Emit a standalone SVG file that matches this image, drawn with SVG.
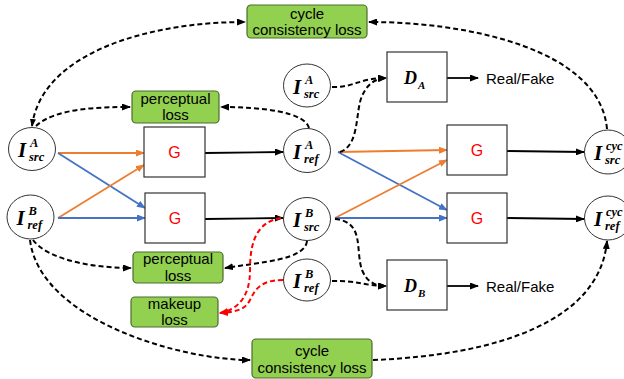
<svg xmlns="http://www.w3.org/2000/svg" width="624" height="379" viewBox="0 0 624 379">
  <style>
    .node { fill: #ffffff; stroke: #333333; stroke-width: 1; }
    .box { fill: #ffffff; stroke: #333333; stroke-width: 1.2; }
    .loss { fill: #92d050; stroke: #4e6b2e; stroke-width: 1.2; }
    .lbl { font-family: "Liberation Sans", Arial, sans-serif; font-size: 15px; fill: #000; text-anchor: middle; }
    .g { font-family: "Liberation Sans", Arial, sans-serif; font-size: 16px; fill: #ff0000; text-anchor: middle; }
    .rf { font-family: "Liberation Sans", Arial, sans-serif; font-size: 15px; fill: #000; }
    .m { font-family: "Liberation Serif", "Times New Roman", serif; font-style: italic; font-weight: bold; fill: #000; }
    .mI { font-size: 21px; }
    .ms { font-size: 12.5px; }
    .solid { fill: none; stroke: #000; stroke-width: 1.8; }
    .orange { fill: none; stroke: #ed7d31; stroke-width: 1.8; }
    .blue { fill: none; stroke: #4472c4; stroke-width: 1.8; }
    .dash { fill: none; stroke: #000; stroke-width: 2; stroke-dasharray: 5 3; }
    .rdash { fill: none; stroke: #ff0000; stroke-width: 2; stroke-dasharray: 5 3; }
  </style>
  <defs>
    <marker id="ak" markerUnits="userSpaceOnUse" markerWidth="9" markerHeight="7" refX="8" refY="3.5" orient="auto">
      <path d="M0,0 L9,3.5 L0,7 z" fill="#000"/>
    </marker>
    <marker id="ao" markerUnits="userSpaceOnUse" markerWidth="9" markerHeight="7" refX="8" refY="3.5" orient="auto">
      <path d="M0,0 L9,3.5 L0,7 z" fill="#ed7d31"/>
    </marker>
    <marker id="ab" markerUnits="userSpaceOnUse" markerWidth="9" markerHeight="7" refX="8" refY="3.5" orient="auto">
      <path d="M0,0 L9,3.5 L0,7 z" fill="#4472c4"/>
    </marker>
    <marker id="ar" markerUnits="userSpaceOnUse" markerWidth="9" markerHeight="7" refX="8" refY="3.5" orient="auto">
      <path d="M0,0 L9,3.5 L0,7 z" fill="#ff0000"/>
    </marker>
    <marker id="ks" markerUnits="userSpaceOnUse" markerWidth="8" markerHeight="6" refX="1" refY="3" orient="auto">
      <path d="M8,0 L0,3 L8,6 z" fill="#000"/>
    </marker>
  </defs>

  <!-- connectors -->
  <g id="connectors">
    <!-- generator inputs -->
    <line class="orange" x1="58" y1="153" x2="144" y2="153" marker-end="url(#ao)"/>
    <line class="blue" x1="58" y1="153" x2="145" y2="208" marker-end="url(#ab)"/>
    <line class="orange" x1="58" y1="218" x2="144" y2="165" marker-end="url(#ao)"/>
    <line class="blue" x1="58" y1="218" x2="145" y2="218" marker-end="url(#ab)"/>
    <line class="orange" x1="338" y1="152" x2="447" y2="150" marker-end="url(#ao)"/>
    <line class="blue" x1="338" y1="152" x2="447" y2="210" marker-end="url(#ab)"/>
    <line class="orange" x1="335" y1="218" x2="447" y2="160" marker-end="url(#ao)"/>
    <line class="blue" x1="335" y1="218" x2="447" y2="218" marker-end="url(#ab)"/>
    <!-- generator outputs -->
    <line class="solid" x1="205" y1="153" x2="283" y2="152" marker-end="url(#ak)"/>
    <line class="solid" x1="205" y1="219" x2="283" y2="218" marker-end="url(#ak)"/>
    <line class="solid" x1="507" y1="151" x2="584" y2="152" marker-end="url(#ak)"/>
    <line class="solid" x1="507" y1="218" x2="584" y2="219" marker-end="url(#ak)"/>
    <!-- discriminator outputs -->
    <line class="solid" x1="447" y1="78" x2="478" y2="78" marker-end="url(#ak)"/>
    <line class="solid" x1="447" y1="286" x2="478" y2="286" marker-end="url(#ak)"/>
    <!-- loss links -->
    <path class="dash" d="M32,126 C42,52 150,22 245,22" marker-start="url(#ks)" marker-end="url(#ak)"/>
    <path class="dash" d="M36,126 C55,108 100,107 130,107" marker-end="url(#ak)"/>
    <path class="dash" d="M309,128 C305,112 262,107 221,107" marker-end="url(#ak)"/>
    <path class="dash" d="M607,129 C600,50 470,22 369,22" marker-end="url(#ak)"/>
    <path class="dash" d="M332,87 C352,88 360,78 386,78" marker-end="url(#ak)"/>
    <path class="dash" d="M340,152 C360,145 355,112 362,96 C368,83 375,79 386,78" marker-end="url(#ak)"/>
    <path class="dash" d="M335,219 C365,222 355,250 362,270 C367,282 375,286 386,286" marker-end="url(#ak)"/>
    <path class="dash" d="M332,281 C355,280 365,286 386,286" marker-end="url(#ak)"/>
    <path class="dash" d="M307,241 C305,260 262,262 225,268" marker-end="url(#ak)"/>
    <path class="dash" d="M33,240 C50,262 100,268 131,268" marker-end="url(#ak)"/>
    <path class="dash" d="M30,240 C40,320 180,360 250,360" marker-end="url(#ak)"/>
    <path class="dash" d="M373,360 C500,355 600,320 607,241" marker-end="url(#ak)"/>
    <path class="rdash" d="M281,218 C255,222 250,245 250,270 C250,300 235,310 220,313" marker-end="url(#ar)"/>
    <path class="rdash" d="M283,280 C260,280 255,290 250,300 C245,310 235,312 220,313" marker-end="url(#ar)"/>
  </g>

  <!-- loss boxes -->
  <g id="cycle-loss-top">
    <rect class="loss" x="247" y="5" width="120" height="33" rx="4"/>
    <text class="lbl" x="307" y="19">cycle</text>
    <text class="lbl" x="307" y="35">consistency loss</text>
  </g>
  <g id="perceptual-loss-top">
    <rect class="loss" x="132" y="91" width="87" height="32" rx="4"/>
    <text class="lbl" x="175.5" y="104">perceptual</text>
    <text class="lbl" x="175.5" y="120">loss</text>
  </g>
  <g id="perceptual-loss-bottom">
    <rect class="loss" x="133" y="252" width="90" height="31" rx="4"/>
    <text class="lbl" x="178" y="264">perceptual</text>
    <text class="lbl" x="178" y="281">loss</text>
  </g>
  <g id="makeup-loss">
    <rect class="loss" x="131" y="297" width="87" height="30" rx="4"/>
    <text class="lbl" x="174.5" y="309">makeup</text>
    <text class="lbl" x="174.5" y="325">loss</text>
  </g>
  <g id="cycle-loss-bottom">
    <rect class="loss" x="252" y="339" width="120" height="39" rx="4"/>
    <text class="lbl" x="312" y="356">cycle</text>
    <text class="lbl" x="312" y="373">consistency loss</text>
  </g>

  <!-- generators -->
  <g id="G1">
    <rect class="box" x="144" y="127" width="61" height="50"/>
    <text class="g" x="174.5" y="158">G</text>
  </g>
  <g id="G2">
    <rect class="box" x="145" y="193" width="60" height="50"/>
    <text class="g" x="175" y="224">G</text>
  </g>
  <g id="G3">
    <rect class="box" x="447" y="125" width="60" height="50"/>
    <text class="g" x="477" y="156">G</text>
  </g>
  <g id="G4">
    <rect class="box" x="447" y="193" width="60" height="50"/>
    <text class="g" x="477" y="224">G</text>
  </g>

  <!-- discriminators -->
  <g id="DA">
    <rect class="box" x="387" y="52" width="60" height="50"/>
    <text class="m" x="404" y="84" font-size="18">D</text>
    <text class="m" x="418" y="89" font-size="11">A</text>
    <text class="rf" x="486" y="84">Real/Fake</text>
  </g>
  <g id="DB">
    <rect class="box" x="387" y="260" width="60" height="50"/>
    <text class="m" x="404" y="292" font-size="18">D</text>
    <text class="m" x="418" y="297" font-size="11">B</text>
    <text class="rf" x="486" y="292">Real/Fake</text>
  </g>

  <!-- image nodes -->
  <g id="IA-src">
    <ellipse class="node" cx="32" cy="149" rx="23.5" ry="21.5"/>
    <text class="m mI" x="18" y="157">I</text>
    <text class="m ms" x="30" y="147">A</text>
    <text class="m ms" x="29" y="161">src</text>
  </g>
  <g id="IB-ref">
    <ellipse class="node" cx="30.5" cy="217" rx="23.5" ry="22"/>
    <text class="m mI" x="16.5" y="225">I</text>
    <text class="m ms" x="28.5" y="215">B</text>
    <text class="m ms" x="27.5" y="229">ref</text>
  </g>
  <g id="IA-src-2">
    <ellipse class="node" cx="307" cy="85.5" rx="23.5" ry="21.5"/>
    <text class="m mI" x="293" y="93.5">I</text>
    <text class="m ms" x="305" y="83.5">A</text>
    <text class="m ms" x="304" y="97.5">src</text>
  </g>
  <g id="IA-ref">
    <ellipse class="node" cx="307" cy="150.5" rx="23.5" ry="22"/>
    <text class="m mI" x="293" y="158.5">I</text>
    <text class="m ms" x="305" y="148.5">A</text>
    <text class="m ms" x="304" y="162.5">ref</text>
  </g>
  <g id="IB-src">
    <ellipse class="node" cx="307" cy="219" rx="23.5" ry="21.5"/>
    <text class="m mI" x="293" y="227">I</text>
    <text class="m ms" x="305" y="217">B</text>
    <text class="m ms" x="304" y="231">src</text>
  </g>
  <g id="IB-ref-2">
    <ellipse class="node" cx="307" cy="280" rx="23.5" ry="21"/>
    <text class="m mI" x="293" y="288">I</text>
    <text class="m ms" x="305" y="278">B</text>
    <text class="m ms" x="304" y="292">ref</text>
  </g>
  <g id="Icyc-src">
    <ellipse class="node" cx="608" cy="152" rx="23.5" ry="22"/>
    <text class="m mI" x="594" y="160">I</text>
    <text class="m ms" x="606" y="150">cyc</text>
    <text class="m ms" x="605" y="164">src</text>
  </g>
  <g id="Icyc-ref">
    <ellipse class="node" cx="608" cy="218" rx="23.5" ry="22"/>
    <text class="m mI" x="594" y="226">I</text>
    <text class="m ms" x="606" y="216">cyc</text>
    <text class="m ms" x="605" y="230">ref</text>
  </g>
</svg>
